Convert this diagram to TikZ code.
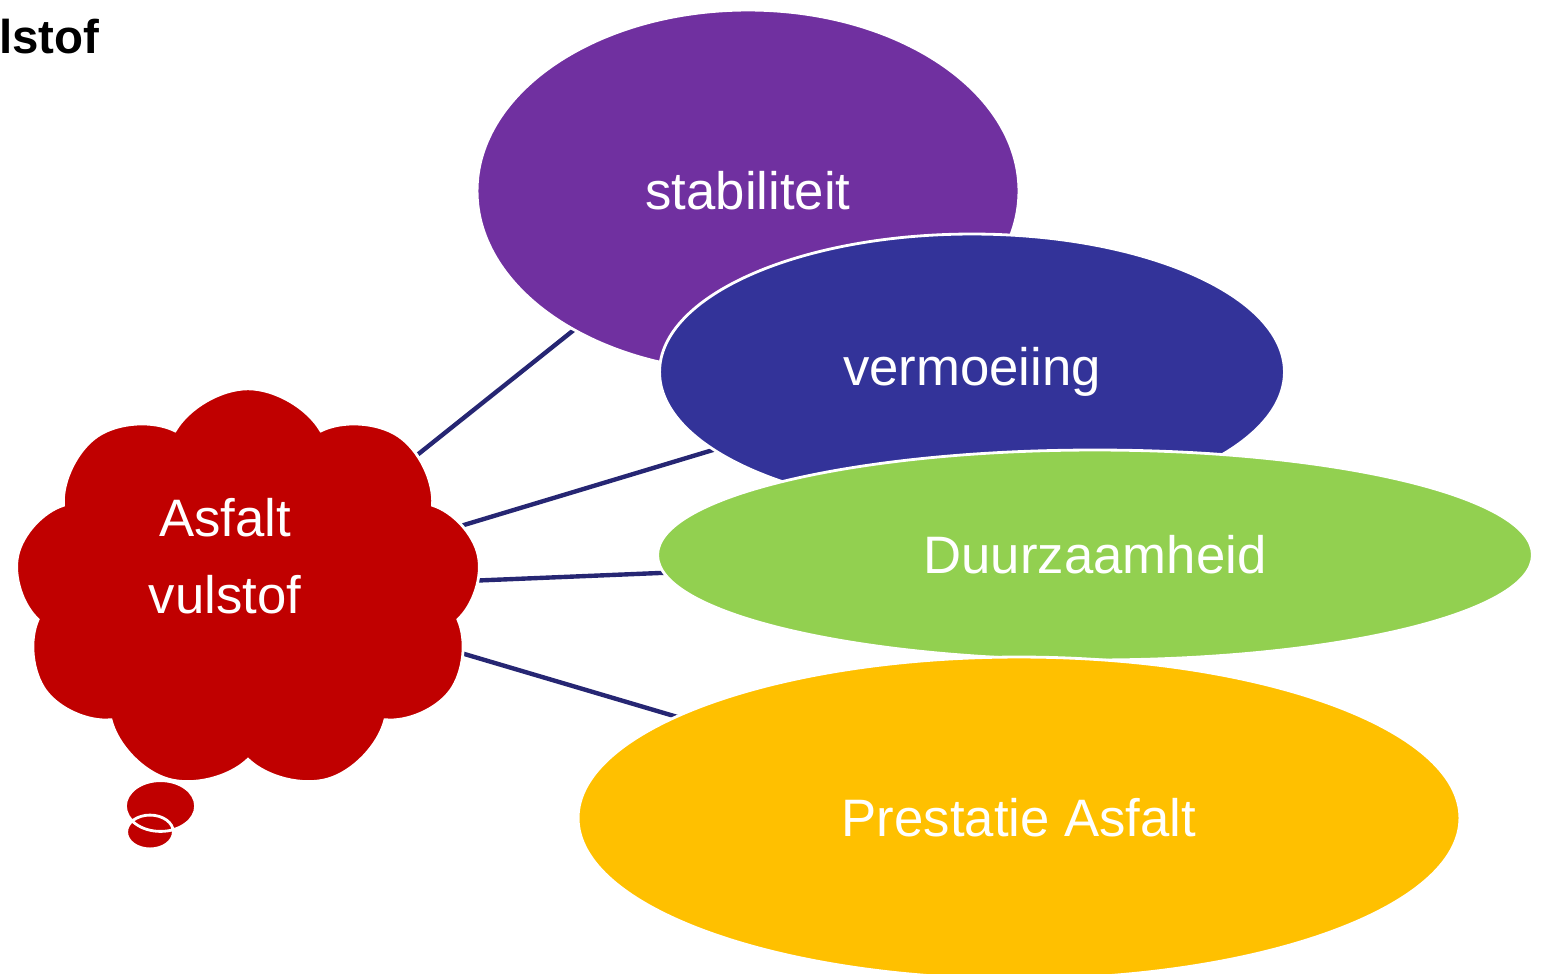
\documentclass[tikz,border=0pt]{standalone}
\usepackage{fontspec}
\setmainfont{Liberation Sans}
\usetikzlibrary{shapes.geometric,shapes.symbols,shapes.callouts,backgrounds}
\definecolor{stabpurple}{HTML}{7030A0}
\definecolor{vermblue}{HTML}{333399}
\definecolor{duurgreen}{HTML}{92D050}
\definecolor{prestyellow}{HTML}{FFC000}
\definecolor{cloudred}{HTML}{C00000}
\definecolor{linknavy}{RGB}{38,38,115}

\begin{document}
\begin{tikzpicture}[x=0.02cm, y=-0.02cm,
    blob/.style={ellipse, draw=white, line width=1.6pt, inner sep=0pt, text=white,
      font=\fontsize{30}{36}\selectfont},
    link/.style={draw=linknavy, line width=2.5pt}]
      \useasboundingbox (0,0) rectangle (1547,973);
      \node[anchor=west, font=\fontsize{27}{30}\selectfont\bfseries] (title) at (-7,37) {lstof};
%      ellipses, each one on top of the previous
      \node[blob, fill=stabpurple, minimum width=10.84cm, minimum height=7.24cm] (stab) at (748,191) {stabiliteit};
      \node[blob, fill=vermblue, minimum width=12.5cm, minimum height=5.52cm] (verm) at (972,372) {vermoeiing};
      \node[blob, fill=duurgreen, minimum width=17.5cm, minimum height=4.2cm] (duur) at (1095,555) {Duurzaamheid};
      \node[blob, fill=prestyellow, minimum width=17.64cm, minimum height=6.44cm] (prest) at (1019,818) {Prestatie Asfalt};
%      thought cloud
      \coordinate (tip) at (150,832);
      \node[cloud callout, cloud puffs=9, cloud puff arc=120, cloud ignores aspect,
            minimum width=9.35cm, minimum height=8.05cm, fill=cloudred, draw=white,
            line width=1.6pt, callout pointer segments=2,
            callout absolute pointer={(tip)}] (cloud) at (248,590) {};
      \node[text=white, align=center, font=\fontsize{30}{44}\selectfont] (cloudtext) at (225,556) {Asfalt\\vulstof};
      \begin{scope}[on background layer]
        \draw[link] (cloud.center) -- (stab.center);
        \draw[link] (cloud.center) -- (verm.center);
        \draw[link] (cloud.center) -- (duur.center);
        \draw[link] (cloud.center) -- (prest.center);
      \end{scope}
\end{tikzpicture}
\end{document}
